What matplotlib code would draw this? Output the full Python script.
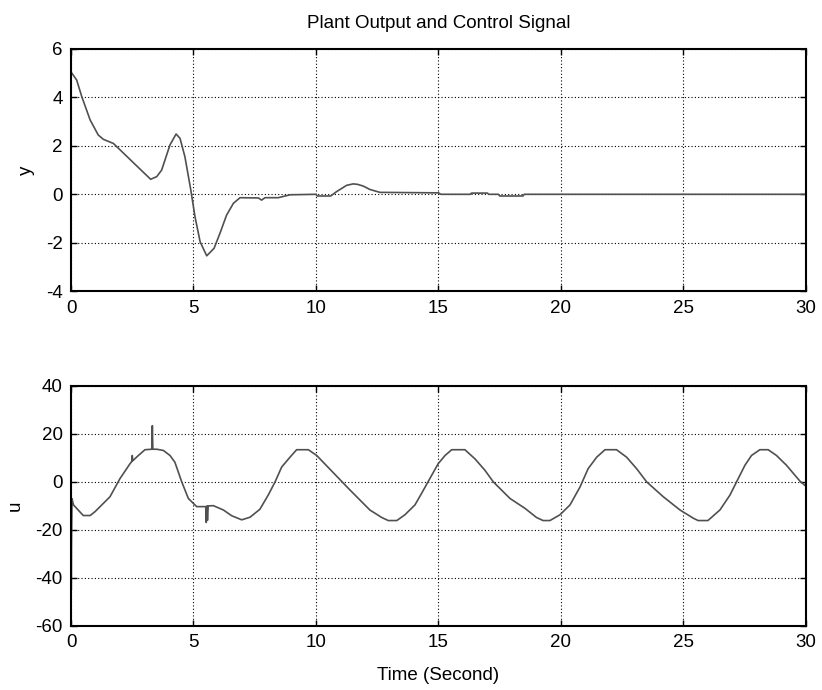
"""Plant output and control signal, two stacked panels in MATLAB style."""
import matplotlib
matplotlib.use("Agg")
import matplotlib.pyplot as plt

# plant output y(t)
t_y = [0, 0.23, 0.44, 0.78, 1.11, 1.32, 1.73, 3.25, 3.5, 3.7, 4.04, 4.29, 4.45,
       4.65, 4.89, 5.06, 5.27, 5.54, 5.84, 6.08, 6.35, 6.63, 6.9, 7.65, 7.78,
       7.92, 8.46, 8.94, 10.0, 10.05, 10.6, 10.84, 11.25, 11.52, 11.7, 11.93,
       12.2, 12.61, 15.0, 15.1, 16.3, 16.35, 17.0, 17.05, 17.45, 17.5, 18.45,
       18.5, 30]
y_vals = [5.05, 4.72, 4.03, 3.07, 2.45, 2.27, 2.1, 0.62, 0.73, 1.0, 2.04, 2.49,
          2.31, 1.55, 0.18, -0.92, -1.96, -2.54, -2.23, -1.61, -0.86, -0.37,
          -0.14, -0.15, -0.24, -0.14, -0.14, -0.02, 0.0, -0.07, -0.07, 0.11,
          0.37, 0.43, 0.41, 0.34, 0.2, 0.08, 0.06, 0.0, 0.0, 0.05, 0.05, 0.0,
          0.0, -0.07, -0.07, 0.0, 0.0]

# control signal u(t)
t_u = [0, 0.01, 0.02, 0.04, 0.1, 0.5, 0.78, 0.98, 1.59, 2.0,
       2.41, 2.48, 2.5, 2.52, 2.75, 3.02, 3.3, 3.32, 3.34, 3.5,
       3.77, 4.04, 4.24, 4.52, 4.79, 5.13, 5.4, 5.5, 5.52, 5.55,
       5.57, 5.6, 5.81, 6.22, 6.56, 6.97, 7.31, 7.71, 8.05, 8.33,
       8.6, 8.94, 9.21, 9.69, 10.03, 11.39, 12.2, 12.68, 12.95, 13.3,
       13.63, 14.04, 14.31, 14.65, 14.99, 15.27, 15.54, 16.08, 16.49, 16.9,
       17.24, 17.92, 18.53, 19.0, 19.27, 19.55, 19.96, 20.37, 20.78, 21.11,
       21.46, 21.8, 22.27, 22.68, 23.09, 23.5, 24.18, 24.86, 25.4, 25.6,
       26.0, 26.49, 26.9, 27.17, 27.51, 27.78, 28.12, 28.46, 28.8, 29.21,
       29.55, 29.76, 30]
u_vals = [-7, -45, -25, -7, -9.6, -14, -14, -12.4, -6.2, 1.4,
          7.6, 8.5, 11, 8.8, 11, 13.4, 13.6, 23.4, 13.6, 13.6,
          13.1, 11, 8.2, 0, -6.9, -10.3, -10.3, -10.3, -16.9, -10,
          -16, -10, -9.9, -11.7, -14.1, -15.8, -14.7, -11.4, -5.5, 0,
          6.2, 10.3, 13.4, 13.4, 11, -3.4, -11.7, -14.8, -16.1, -16.1,
          -13.7, -9.6, -4.8, 1.4, 7.6, 11, 13.4, 13.4, 9.6, 4.8,
          0, -6.9, -11, -14.8, -16.1, -16.1, -13.7, -9.6, -2.1, 5.5,
          10.3, 13.4, 13.4, 10.3, 5.5, 0, -6.2, -11.7, -15.1, -16.1,
          -16.1, -11.7, -5.5, 0, 6.9, 11, 13.4, 13.4, 11, 6.9,
          2.8, 0.3, -1.8]

x_ticks = [0, 5, 10, 15, 20, 25, 30]
y_ticks = [-4, -2, 0, 2, 4, 6]
u_ticks = [-60, -40, -20, 0, 20, 40]

LINE_COLOR = "#505050"
FONT_SIZE = 13.5

plt.rcParams["font.family"] = ["Liberation Sans", "DejaVu Sans"]
plt.rcParams["font.size"] = FONT_SIZE
plt.rcParams["axes.unicode_minus"] = False

fig = plt.figure(figsize=(8.22, 6.90), dpi=100)
ax_y = fig.add_axes([0.0864, 0.578, 0.894, 0.351])
ax_u = fig.add_axes([0.0864, 0.0928, 0.894, 0.348])


def style_axes(ax, yticks):
	ax.set_xlim(0, 30)
	ax.set_ylim(yticks[0], yticks[-1])
	ax.set_xticks(x_ticks)
	ax.set_yticks(yticks)
	ax.grid(True, color="black", linestyle=(0, (1, 2)), linewidth=0.8)
	ax.tick_params(direction="in", top=True, right=True, length=4, width=1,
		pad=6, labelsize=FONT_SIZE)
	for spine in ax.spines.values():
		spine.set_linewidth(1.5)


ax_y.plot(t_y, y_vals, color=LINE_COLOR, linewidth=1.2)
style_axes(ax_y, y_ticks)
ax_y.set_ylabel("y", labelpad=8)
ax_y.set_title("Plant Output and Control Signal", fontsize=13.5, pad=15)

ax_u.plot(t_u, u_vals, color=LINE_COLOR, linewidth=1.2)
style_axes(ax_u, u_ticks)
ax_u.set_ylabel("u", labelpad=8)
ax_u.set_xlabel("Time (Second)", labelpad=11)

fig.savefig("out.png", dpi=100)
